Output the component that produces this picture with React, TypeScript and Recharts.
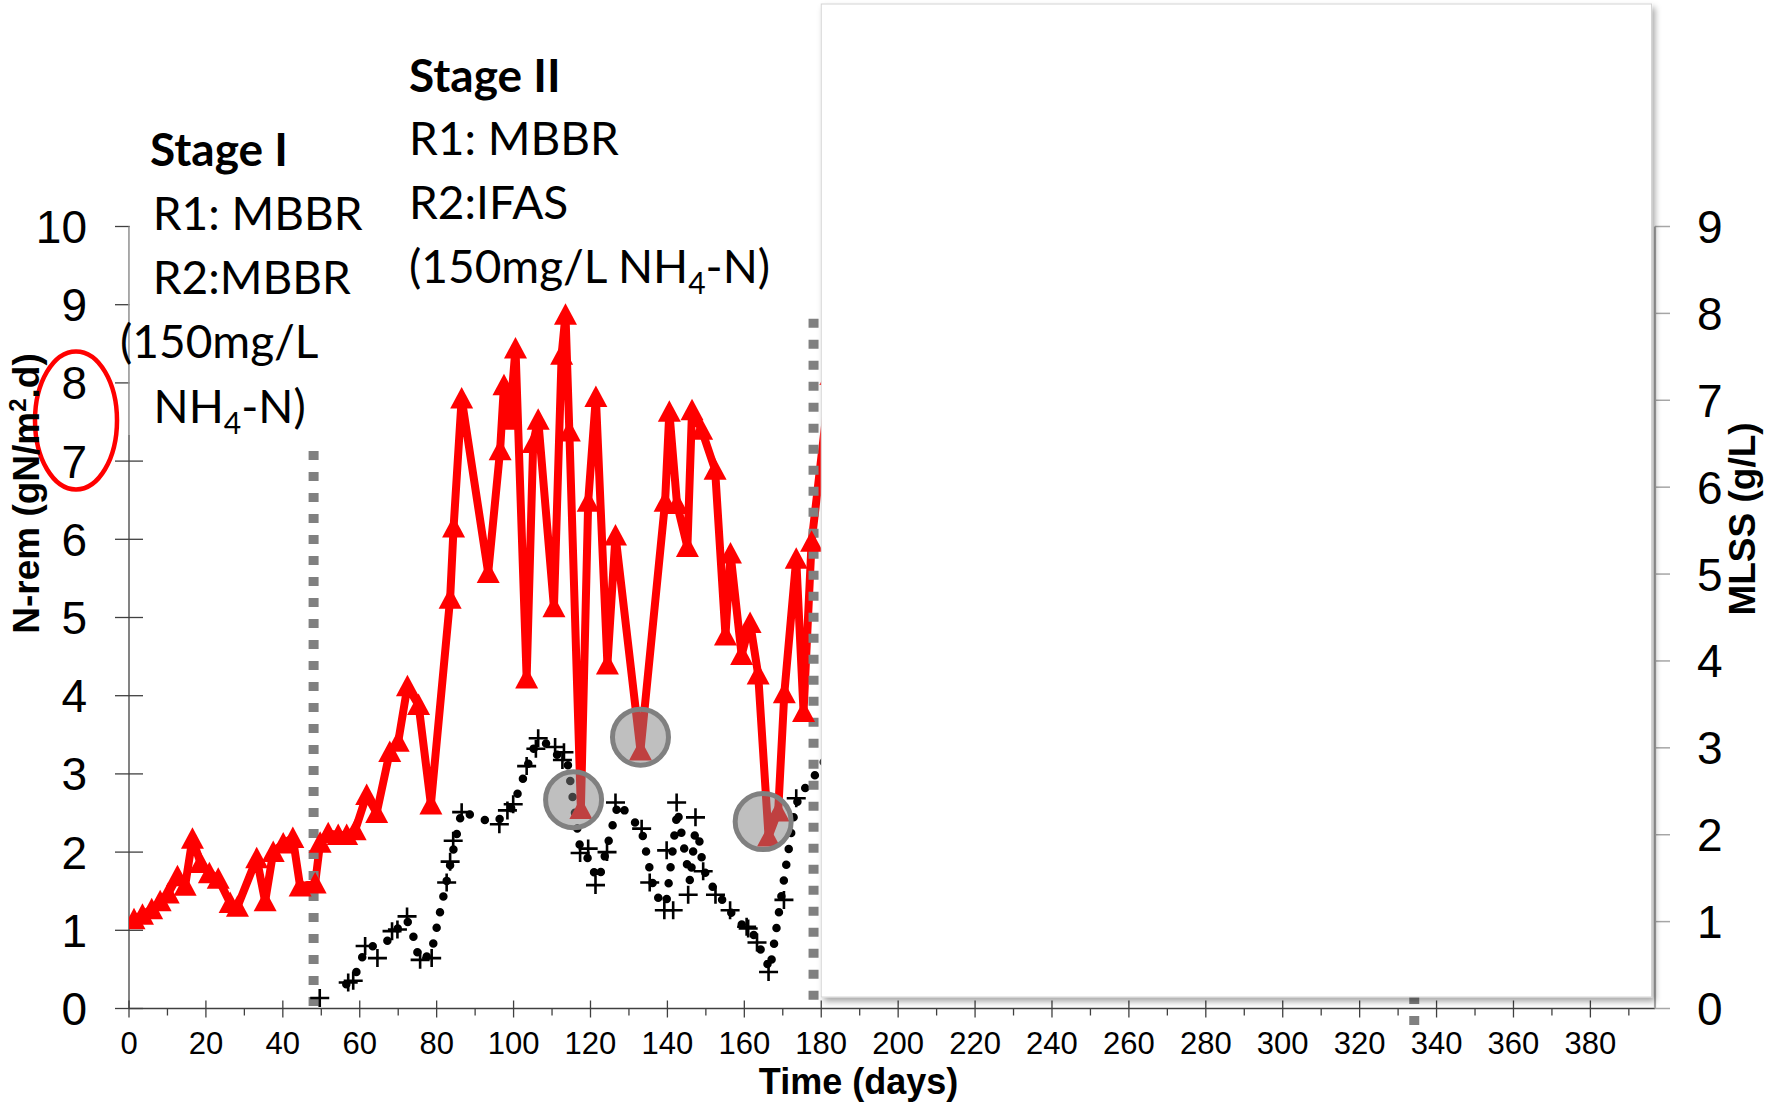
import React from 'react';
import { ComposedChart, Line, XAxis, YAxis, ReferenceLine } from 'recharts';

// N-removal rate, left axis (gN/m2.d)
const nremDays = [
  1.3, 3.5, 5.9, 8.1, 10.2, 12.6, 14.6, 16.5, 18.6, 20.9, 23.2, 26.3, 28.2, 33.2, 35.4, 37.5, 40.1, 42.6,
  44.5, 48.4, 49.7, 51.8, 54.4, 56.6, 58.8, 61.8, 64.4, 67.8, 70, 72.4, 75.3, 78.5, 83.5, 84.4, 86.5,
  93.4, 96.5, 97.5, 99, 100.5, 103.4, 105.1, 106.4, 110.5, 112.5, 113.5, 114.5, 117.5, 119.4, 121.4,
  124.4, 126.5, 133, 139.4, 140.5, 142.5, 145.2, 146.4, 148.9, 152.4, 155.1, 156.4, 159.3, 161.5,
  163.6, 166.3, 168.8, 170.4, 173.5, 175.4, 177.5, 182.5,
];
const nremValues = [
  1.14, 1.2, 1.27, 1.37, 1.47, 1.69, 1.57, 2.17, 1.86, 1.73, 1.66, 1.35, 1.3, 1.92, 1.37, 2.0, 2.11, 2.18,
  1.56, 1.6, 2.12, 2.24, 2.22, 2.22, 2.28, 2.73, 2.5, 3.28, 3.41, 4.12, 3.88, 2.61, 5.24, 6.15, 7.8,
  5.57, 7.14, 7.97, 7.53, 8.44, 4.22, 7.23, 7.53, 5.13, 8.36, 8.87, 7.38, 2.55, 6.48, 7.82,
  4.4, 6.05, 3.3, 6.48, 7.63, 6.45, 5.9, 7.65, 7.4, 6.89, 4.77, 5.82, 4.52, 4.93,
  4.27, 2.2, 2.52, 4.03, 5.75, 3.79, 5.97, 8.1,
];

// MLSS dotted trace, right axis (g/L)
const mlssTraceDays = [
  56.5, 58.8, 60.5, 62.2, 66.8, 72.0, 73.3, 75.5, 78.5, 86.5, 90.4, 94.5, 97.3, 99.9, 105.7, 108.6,
  111.3, 114.0, 117.3, 120.3, 121.4, 122.5, 127.2, 130.3, 133.3, 136.6, 138.8, 139.8, 142.6, 145.9,
  147.2, 148.0, 149.2, 150.6, 155.6, 157.8, 162.3, 166.7, 173.2, 174.6, 177.2, 179.7, 183,
];
const mlssTraceValues = [
  0.28, 0.38, 0.58, 0.7, 0.76, 1.03, 0.94, 0.56, 0.62, 2.27, 2.2, 2.14, 2.2, 2.33, 3.05, 3.05,
  2.92, 2.84, 1.85, 1.67, 1.49, 1.54, 2.36, 2.21, 2.05, 1.35, 1.19, 1.25, 2.28, 1.46,
  2.03, 2.03, 1.64, 1.47, 1.17, 1.02, 0.86, 0.45, 2.31, 2.47, 2.61, 2.77, 3.0,
];

// MLSS "+" samples, right axis (g/L)
const mlssPlusDays = [
  49.6, 57.0, 58.3, 61.4, 64.6, 68.4, 69.8, 72.3, 75.7, 78.7, 82.6, 83.5, 84.3, 86.5, 96.3, 98.4, 99.9,
  103.4, 105.8, 106.4, 110.8, 112.7, 113.1, 117.3, 119.4, 121.3, 124.3, 126.5, 133.3, 135.4, 139.2,
  139.8, 141.5, 142.4, 145.4, 147.3, 149.3, 152.5, 156.3, 160.6, 161.0, 163.3, 166.3, 170.3, 173.5,
];
const mlssPlusValues = [
  0.12, 0.3, 0.32, 0.72, 0.58, 0.89, 0.91, 1.06, 0.56, 0.58, 1.45, 1.69, 1.93, 2.26, 2.12, 2.28, 2.35,
  2.79, 2.99, 3.11, 3.01, 2.86, 2.95, 1.79, 1.84, 1.42, 1.8, 2.37, 2.07, 1.45, 1.13,
  1.82, 1.13, 2.37, 1.31, 2.2, 1.58, 1.31, 1.13, 0.94, 0.92, 0.76, 0.42, 1.25, 2.42,
];

const xTicks = [
  0, 10, 20, 30, 40, 50, 60, 70, 80, 90, 100, 110, 120, 130, 140, 150, 160, 170, 180, 190, 200,
  210, 220, 230, 240, 250, 260, 270, 280, 290, 300, 310, 320, 330, 340, 350, 360, 370, 380, 390,
];
const leftTicks = [0, 1, 2, 3, 4, 5, 6, 7, 8, 9, 10];
const rightTicks = [0, 1, 2, 3, 4, 5, 6, 7, 8, 9];

// dashed stage boundaries: day, segment ends on the left axis
const stageLines = [
  { day: 48, from: 7.13, to: -0.06 },
  { day: 178, from: 8.82, to: -0.04 },
  { day: 334.2, from: -0.21, to: 7 },
];

// highlighted low points (left axis units)
const circleMarks = [
  { day: 115.6, val: 2.67 },
  { day: 133, val: 3.47 },
  { day: 164.9, val: 2.39 },
];

const W = 1776;
const H = 1102;
const PLOT = { left: 129, right: 1655, top: 226.5, bottom: 1008.5 };
const X_MAX = 396.8;
const AXIS_FONT = '"Liberation Sans", Arial, sans-serif';
const TEXT_FONT = 'Lato, "Open Sans", sans-serif';

const pxPerDay = (PLOT.right - PLOT.left) / X_MAX;
const xPx = (d: number) => PLOT.left + d * pxPerDay;
const yLeftPx = (v: number) => PLOT.bottom - (v * (PLOT.bottom - PLOT.top)) / 10;

const nremData = nremDays.map((d, i) => ({ day: d, v: nremValues[i] }));
const traceData = mlssTraceDays.map((d, i) => ({ day: d, v: mlssTraceValues[i] }));
const plusData = mlssPlusDays.map((d, i) => ({ day: d, v: mlssPlusValues[i] }));

const XTick = (props: any) => {
  const { x, y, payload } = props;
  const v = payload.value;
  const major = v % 20 === 0;
  return (
    <g>
      <line x1={x} x2={x} y1={major ? y - 8 : y} y2={major ? y + 9 : y + 7} stroke="#404040" strokeWidth={1.3} />
      {major && (
        <text x={x} y={y + 45.5} textAnchor="middle" fontSize={31} fontFamily={AXIS_FONT} fill="#000">
          {v}
        </text>
      )}
    </g>
  );
};

const LeftTick = (props: any) => {
  const { x, y, payload } = props;
  return (
    <g>
      <line x1={x - 14} x2={x + 14} y1={y} y2={y} stroke="#404040" strokeWidth={1.3} />
      <text x={x - 42} y={y + 16.5} textAnchor="end" fontSize={46} fontFamily={AXIS_FONT} fill="#000">
        {payload.value}
      </text>
    </g>
  );
};

const RightTick = (props: any) => {
  const { x, y, payload } = props;
  return (
    <g>
      <line x1={x} x2={x + 15} y1={y} y2={y} stroke="#a6a6a6" strokeWidth={1.5} />
      <text x={x + 42} y={y + 16.5} textAnchor="start" fontSize={46} fontFamily={AXIS_FONT} fill="#000">
        {payload.value}
      </text>
    </g>
  );
};

const Tri = (p: any) => {
  const { cx, cy, index } = p;
  if (cx == null || cy == null) return <g key={`t${index}`} />;
  return (
    <polygon
      key={`t${index}`}
      points={`${cx},${cy - 11.5} ${cx - 11.5},${cy + 10} ${cx + 11.5},${cy + 10}`}
      fill="#ff0000"
    />
  );
};

const Plus = (p: any) => {
  const { cx, cy, index } = p;
  if (cx == null || cy == null) return <g key={`p${index}`} />;
  return (
    <path
      key={`p${index}`}
      d={`M${cx - 9.5},${cy}H${cx + 9.5}M${cx},${cy - 9}V${cy + 9}`}
      stroke="#000"
      strokeWidth={2.6}
      fill="none"
    />
  );
};

const NH4 = () => (
  <>
    <tspan>NH</tspan>
    <tspan fontSize={30} dy={11}>4</tspan>
    <tspan dy={-11}>-N)</tspan>
  </>
);

export default function App() {
  const boxLeft = xPx(180);
  const boxRight = xPx(395.9);
  const boxBottom = yLeftPx(0.147);

  return (
    <div style={{ position: 'absolute', left: 0, top: 0, width: W, height: H, background: '#fff' }}>
      <ComposedChart
        width={W}
        height={H}
        margin={{ top: PLOT.top, right: 41, bottom: 33.5, left: 49 }}
      >
        <XAxis
          type="number"
          dataKey="day"
          domain={[0, X_MAX]}
          ticks={xTicks}
          interval={0}
          allowDataOverflow
          tickLine={false}
          tickSize={0}
          tickMargin={0}
          height={60}
          axisLine={{ stroke: '#404040', strokeWidth: 1.3 }}
          tick={<XTick />}
        />
        <YAxis
          yAxisId="left"
          domain={[0, 10]}
          ticks={leftTicks}
          interval={0}
          width={80}
          tickLine={false}
          tickSize={0}
          tickMargin={0}
          axisLine={{ stroke: '#404040', strokeWidth: 1.3 }}
          tick={<LeftTick />}
        />
        <YAxis
          yAxisId="right"
          orientation="right"
          domain={[0, 9]}
          ticks={rightTicks}
          interval={0}
          width={80}
          tickLine={false}
          tickSize={0}
          tickMargin={0}
          axisLine={{ stroke: '#a6a6a6', strokeWidth: 2.2 }}
          tick={<RightTick />}
        />
        <Line
          yAxisId="right"
          data={traceData}
          dataKey="v"
          stroke="#000"
          strokeWidth={8.5}
          strokeDasharray="0 16"
          strokeLinecap="round"
          dot={false}
          activeDot={false}
          isAnimationActive={false}
        />
        <Line
          yAxisId="right"
          data={plusData}
          dataKey="v"
          stroke="none"
          dot={Plus}
          activeDot={false}
          isAnimationActive={false}
        />
        <Line
          yAxisId="left"
          data={nremData}
          dataKey="v"
          stroke="#ff0000"
          strokeWidth={8}
          strokeLinejoin="round"
          dot={Tri}
          activeDot={false}
          isAnimationActive={false}
        />
        {stageLines.map((s, i) => (
          <ReferenceLine
            key={i}
            yAxisId="left"
            segment={[{ x: s.day, y: s.from }, { x: s.day, y: s.to }]}
            stroke="#808080"
            strokeWidth={10}
            strokeDasharray="9 12"
            ifOverflow="visible"
            zIndex={450}
          />
        ))}
      </ComposedChart>

      <svg width={W} height={H} style={{ position: 'absolute', left: 0, top: 0, pointerEvents: 'none' }}>
        <defs>
          <filter id="boxShadow" x="-5%" y="-5%" width="110%" height="110%">
            <feDropShadow dx="3" dy="4" stdDeviation="3" floodColor="#000" floodOpacity="0.35" />
          </filter>
        </defs>

        {/* pasted white panel over the unused part of the plot */}
        <rect
          x={boxLeft}
          y={4}
          width={boxRight - boxLeft}
          height={boxBottom - 4}
          fill="#fff"
          stroke="#d4d4d4"
          strokeWidth={1}
          filter="url(#boxShadow)"
        />

        {/* Stage I text box */}
        <rect x={129.8} y={100} width={205} height={335} fill="#fff" />
        <line x1={129} x2={129} y1={PLOT.top} y2={435} stroke="#c8c8c8" strokeWidth={1} />

        {circleMarks.map((c, i) => (
          <circle
            key={i}
            cx={xPx(c.day)}
            cy={yLeftPx(c.val)}
            r={28}
            fill="rgba(128,128,128,0.5)"
            stroke="#808080"
            strokeWidth={5}
          />
        ))}

        <ellipse cx={76} cy={yLeftPx(7.52)} rx={41} ry={69} fill="none" stroke="#ff0000" strokeWidth={4.5} />

        <g fontFamily={TEXT_FONT} fontSize={46} fill="#000">
          <text x={150} y={166} fontWeight="bold">Stage I</text>
          <text x={152.7} y={230}>R1: MBBR</text>
          <text x={152.7} y={294}>R2:MBBR</text>
          <text x={120} y={358}>(150mg/L</text>
          <text x={153.6} y={423}><NH4 /></text>

          <text x={409} y={92} fontWeight="bold">Stage II</text>
          <text x={409} y={155}>R1: MBBR</text>
          <text x={409} y={219}>R2:IFAS</text>
          <text x={409} y={283}>(150mg/L <NH4 /></text>
        </g>

        <g fontFamily={AXIS_FONT} fontWeight="bold" fontSize={36} fill="#000">
          <text x={858.5} y={1093.5} textAnchor="middle">Time (days)</text>
        </g>
        <g fontFamily={AXIS_FONT} fontWeight="bold" fontSize={37} fill="#000">
          <text x={39} y={493.5} textAnchor="middle" transform="rotate(-90, 39, 493.5)">
            N-rem (gN/m<tspan fontSize={24} dy={-13}>2</tspan><tspan dy={13}>.d)</tspan>
          </text>
          <text x={1755} y={519} textAnchor="middle" transform="rotate(-90, 1755, 519)">MLSS (g/L)</text>
        </g>
      </svg>
    </div>
  );
}
